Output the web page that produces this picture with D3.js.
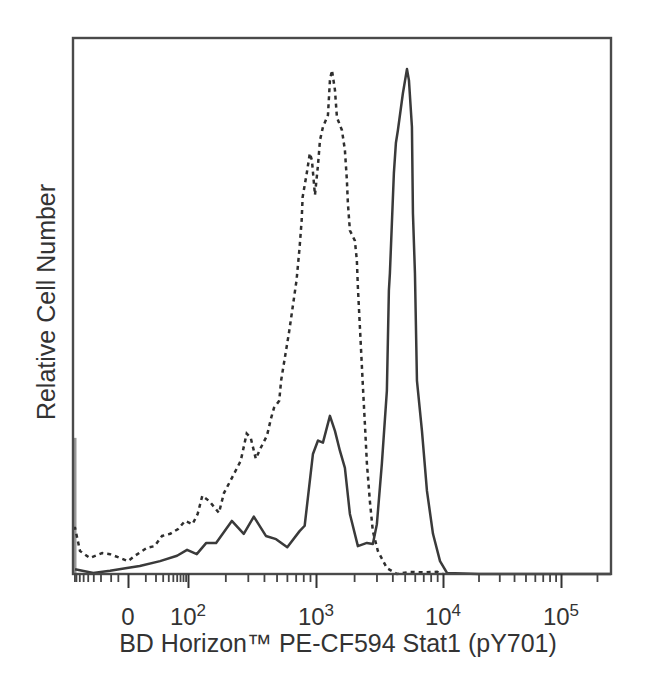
<!DOCTYPE html>
<html lang="en">
    <head>
        <meta charset="utf-8">
        <title>Stat1 (pY701) histogram</title>
        <script src="https://cdn.jsdelivr.net/npm/d3@7/dist/d3.min.js"></script>
        <style type="text/css">
            body { margin: 0; background: #fff; }
        </style>
    </head>
    <body>
        <script type="text/javascript">
            // histogram data: fluorescence intensity vs relative cell number (% of plot height)
            var stimX = [-80, -73, -30, -10.5, -0.4, 6, 26, 61, 96, 118, 141, 169, 225, 279, 334, 414, 496, 604,
                         750, 820, 948, 1037, 1135, 1289, 1412, 1545, 1692, 1853, 2142, 2523, 2810, 3022, 3309,
                         3623, 3757, 3826, 3966, 4113, 4265, 4423, 4842, 5210, 5402, 5702, 5806, 6021, 6243, 6835,
                         7482, 8343, 9474, 10810, 20000, 262144];
            var stimY = [25.4, 0.9, 0.2, 0.6, 1.1, 1.5, 2.4, 3.4, 4.5, 3.7, 5.8, 5.8, 9.9, 7.5, 10.7, 7.1, 6.5, 5.0,
                         8.0, 9.0, 22.4, 24.9, 24.5, 29.5, 26.7, 23.0, 19.8, 11.2, 5.2, 5.8, 5.6, 9.3, 20.6,
                         34.2, 52.9, 56.1, 65.4, 74.8, 80.4, 82.8, 89.7, 94.2, 92.1, 83.4, 67.3, 56.1, 36.1, 26.7,
                         15.5, 7.5, 2.4, 0.2, 0, 0];

            var unstimX = [-80, -73, -58, -36, -18, -10.5, -3.8, 0, 3.2, 11.4, 19, 29, 44, 64, 88, 109, 120, 131,
                           149, 178, 195, 225, 264, 294, 316, 346, 379, 422, 453, 478, 524, 542, 626, 711, 750,
                           778, 791, 851, 898, 931, 982, 1037, 1075, 1135, 1243, 1289, 1337, 1412, 1464, 1603,
                           1692, 1754, 1786, 1853, 2028, 2103, 2142, 2345, 2432, 2523, 2662, 2810, 3077, 3623,
                           4343, 5500, 7000, 9000, 10000];
            var unstimY = [8.6, 8.6, 4.3, 3.0, 3.9, 3.7, 3.0, 2.4, 3.4, 4.9, 5.2, 7.1, 7.5, 8.4, 9.9, 9.3, 11.2, 14.6,
                           13.6, 11.4, 15.1, 17.9, 21.1, 26.2, 25.4, 21.5, 23.6, 25.8, 29.0, 31.0, 32.3, 36.1, 45.4, 54.8, 60.9,
                           66.0, 70.3, 74.8, 78.5, 77.2, 70.7, 76.3, 80.9, 83.4, 85.6, 92.1, 94.0, 90.3, 85.2, 82.8,
                           79.1, 73.5, 69.2, 64.1, 62.2, 58.5, 53.5, 35.1, 28.0, 20.6, 13.6, 8.0, 4.3, 1.1,
                           0, 0.4, 0.3, 0.4, 0];

            // axis ticks
            var majorTicks = [0, 100, 1000, 10000, 100000];
            var majorBase = ['0', '10', '10', '10', '10'];
            var majorExp = ['', '2', '3', '4', '5'];
            var minorTicks = [-75, -70, -60, -50, -40, -30, -20, -10, -5, 10, 20, 30, 40, 50, 60, 70, 80, 90];
            [100, 1000, 10000].forEach(function(dec) {
              for (var k = 2; k <= 9; k++) minorTicks.push(k * dec);
            });
            minorTicks.push(200000);

            var xTitle = 'BD Horizon\u2122 PE-CF594 Stat1 (pY701)';
            var yTitle = 'Relative Cell Number';

            var w = 650;
            var h = 695;
            var mLeft = 73, mRight = 611, mTop = 38, mBottom = 574;

            var svg = d3.select('body').append('svg')
                        .attr('width', w)
                        .attr('height', h);

            // biexponential-like display: symlog, piecewise to follow the decade spacing
            var xScale = d3.scaleSymlog()
                          .constant(10)
                          .domain([-80, 0, 100, 1000, 10000, 100000, 262144])
                          .range([mLeft, 128, 188, 316, 443, 561, mRight]);
            var yScale = d3.scaleLinear()
                          .domain([0, 100])
                          .range([mBottom, mTop]);

            var line = d3.line()
                         .x(function(d) { return xScale(d[0]); })
                         .y(function(d) { return yScale(d[1]); });

            var stim = stimX.map(function(x, i) { return [x, stimY[i]]; });
            var unstim = unstimX.map(function(x, i) { return [x, unstimY[i]]; });

            // off-scale pile-up at the lowest channel (light grey bar on the left edge)
            svg.append('line')
               .attr('x1', xScale(stimX[0]) + 2)
               .attr('x2', xScale(stimX[0]) + 2)
               .attr('y1', yScale(0))
               .attr('y2', yScale(stimY[0]))
               .attr('stroke', '#999')
               .attr('stroke-width', 3);

            svg.append('path')
               .datum(unstim)
               .attr('d', line)
               .attr('fill', 'none')
               .attr('stroke', '#2e2e2e')
               .attr('stroke-width', 2.5)
               .attr('stroke-dasharray', '4,4');

            svg.append('path')
               .datum(stim.slice(1))
               .attr('d', line)
               .attr('fill', 'none')
               .attr('stroke', '#3a3a3a')
               .attr('stroke-width', 2.5)
               .attr('stroke-linejoin', 'round');

            // frame
            svg.append('rect')
               .attr('x', mLeft)
               .attr('y', mTop)
               .attr('width', mRight - mLeft)
               .attr('height', mBottom - mTop)
               .attr('fill', 'none')
               .attr('stroke', '#4a4a4a')
               .attr('stroke-width', 2.4);

            // minor ticks
            var minorAxis = svg.append('g')
               .attr('transform', 'translate(0,' + mBottom + ')')
               .call(d3.axisBottom(xScale).tickValues(minorTicks).tickSize(8).tickFormat(''));
            minorAxis.select('.domain').remove();
            minorAxis.selectAll('line').attr('stroke', '#444').attr('stroke-width', 1.8);

            // major ticks with superscript labels
            var majorAxis = svg.append('g')
               .attr('transform', 'translate(0,' + mBottom + ')')
               .call(d3.axisBottom(xScale).tickValues(majorTicks).tickSize(14).tickFormat(''));
            majorAxis.select('.domain').remove();
            majorAxis.selectAll('line').attr('stroke', '#333').attr('stroke-width', 2);

            var labels = svg.selectAll('text.tick-label')
               .data(majorTicks)
               .enter()
               .append('text')
               .attr('class', 'tick-label')
               .attr('x', function(d) { return xScale(d); })
               .attr('y', 625)
               .attr('text-anchor', 'middle')
               .attr('font-family', 'Liberation Sans, Arial, sans-serif')
               .attr('font-size', '24px')
               .attr('fill', '#333');
            labels.append('tspan')
               .text(function(d, i) { return majorBase[i]; });
            labels.append('tspan')
               .attr('dy', -9)
               .attr('font-size', '17px')
               .text(function(d, i) { return majorExp[i]; });

            svg.append('text')
               .attr('x', 338)
               .attr('y', 652)
               .attr('text-anchor', 'middle')
               .attr('font-family', 'Liberation Sans, Arial, sans-serif')
               .attr('font-size', '25px')
               .attr('fill', '#333')
               .text(xTitle);

            svg.append('text')
               .attr('transform', 'translate(55,302) rotate(-90)')
               .attr('text-anchor', 'middle')
               .attr('font-family', 'Liberation Sans, Arial, sans-serif')
               .attr('font-size', '25px')
               .attr('fill', '#333')
               .text(yTitle);
        </script>
    </body>
</html>
